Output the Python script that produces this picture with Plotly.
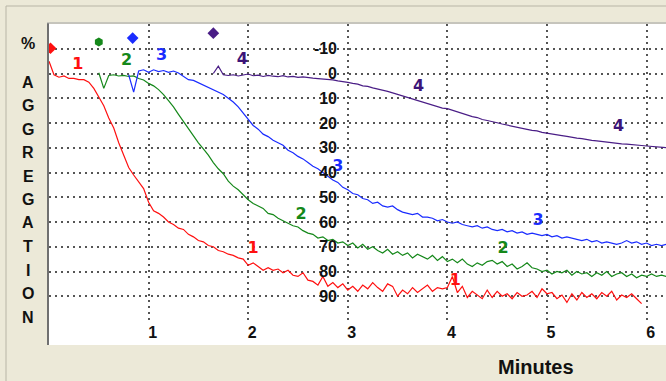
import numpy as np
import plotly.graph_objects as go

# ---------------- data ----------------
STEP = 0.05  # minutes between samples

red_start = 0.0
red_values = [
    -5, 0.5, 1.5, 1.0, 2.0, 2.0, 2.5, 2.5, 3.5, 6.0,
    9.5, 13, 18, 22, 28, 33, 38, 41, 44, 46.5,
    52, 55.5, 56.5, 58, 60, 61, 62.5, 63, 65, 66,
    67.5, 68, 69.5, 70, 71.5, 72, 73, 73.5, 74.5, 75,
    77.5, 76.5, 78, 79.5, 78.5, 79.5, 79, 80.5, 79.5, 81.5,
    82, 80.5, 83.5, 84, 85.5, 82, 86, 84.5, 86.5, 85,
    87.5, 86, 88, 85.5, 87, 84.5, 86.5, 88, 85, 86,
    90, 87.5, 89, 86.5, 88.5, 87, 85.5, 88, 86.5, 87,
    86.5, 82, 88.5, 86, 90.5, 88, 89.5, 91, 87.5, 90.5,
    88, 90, 89, 91, 88.5, 90, 89.5, 88, 90.5, 87,
    89, 88.5, 91, 89.5, 92.5, 89, 91.5, 88.5, 90.5, 89,
    91, 88.5, 90, 88, 91.5, 89.5, 90.5, 89, 91, 93,
]

green_start = 0.50
green_values = [
    -0.3, 6.0, 0.8, 0.5, 1.0, 0.8, 1.2, 1.0, 2.0, 2.6,
    4.0, 5.0, 6.5, 8.5, 11.0, 13.5, 16.5, 19.5, 22.0, 25.0,
    28.0, 30.5, 33.0, 36.0, 38.5, 40.5, 43.5, 45.5, 47.0, 49.0,
    51.0, 52.5, 53.5, 54.5, 56.5, 57.0, 58.5, 59.5, 60.5, 61.5,
    62.0, 63.5, 64.5, 65.0, 66.5, 66.0, 67.5, 67.0, 68.5, 68.0,
    69.5, 68.5, 70.5, 69.0, 71.0, 70.0, 71.5, 72.5, 71.0, 73.0,
    72.0, 73.5, 72.5, 74.5, 73.0, 74.0, 75.0, 73.5, 75.5, 74.0,
    76.0, 75.0, 76.5, 75.0, 77.0, 78.0, 76.5, 77.5, 76.0, 75.5,
    77.0, 76.0, 78.0, 77.0, 79.0, 78.0, 76.5, 78.5, 79.0, 80.0,
    79.5, 81.0, 80.0, 80.5, 79.5, 81.5, 80.0, 81.0, 80.5, 82.0,
    80.5, 81.5, 80.0, 82.0, 81.0, 80.5, 82.0, 81.0, 82.5, 81.5,
    82.0, 81.0, 82.0, 81.5, 82.0,
]

blue_start = 0.80
blue_values = [
    0.5, 7.5, -1.0, -1.5, -0.5, -1.5, -0.8, -1.2, -0.5, -1.0,
    -0.2, 1.0, 2.5, 2.8, 3.8, 4.5, 5.5, 6.5, 7.5, 8.5,
    10.0, 11.5, 13.5, 16.0, 18.5, 21.0, 22.5, 24.5, 25.5, 27.0,
    28.0, 29.0, 31.0, 32.0, 33.5, 34.5, 36.0, 37.5, 38.5, 40.0,
    41.5, 43.0, 44.0, 46.0, 47.0, 48.5, 49.0, 50.5, 51.0, 52.5,
    52.0, 53.5, 54.0, 53.5, 55.0, 56.0, 56.5, 57.0, 56.5, 58.0,
    58.0, 58.5, 59.5, 59.0, 60.0, 60.5, 60.0, 61.0, 61.5, 62.0,
    61.5, 62.5, 62.0, 63.0, 63.5, 63.0, 64.0, 63.5, 64.5, 64.0,
    65.0, 64.5, 65.0, 65.5, 65.0, 66.0, 65.5, 66.5, 66.0, 66.5,
    67.0, 67.5, 67.0, 68.0, 67.5, 68.5, 68.0, 68.5, 69.0, 68.5,
    67.5, 68.5, 68.0, 69.0, 68.5, 69.5, 69.0, 69.5, 69.0,
]

purple_start = 1.65
purple_values = [
    0.0, -3.0, 0.5, 0.8, 0.5, 1.0, 0.6, 0.2, 0.9, 0.7,
    1.2, 0.8, 1.1, 1.3, 0.9, 1.4, 1.2, 1.6, 1.4, 1.8,
    1.9, 2.1, 2.3, 2.2, 2.6, 3.0, 3.2, 3.6, 4.0, 4.3,
    5.0, 5.2, 5.8, 6.2, 6.8, 7.2, 7.8, 8.4, 9.0, 9.8,
    10.2, 10.9, 11.5, 12.2, 12.8, 13.4, 14.0, 14.2, 14.9, 15.6,
    16.2, 16.8, 17.4, 17.8, 18.6, 19.0, 19.6, 19.9, 20.4, 20.9,
    21.4, 21.6, 22.3, 22.6, 23.0, 23.2, 23.8, 24.2, 24.4, 24.9,
    25.1, 25.4, 25.9, 26.1, 26.3, 26.8, 27.0, 27.2, 27.5, 27.6,
    28.0, 28.2, 28.4, 28.5, 28.8, 29.0, 29.1, 29.3, 29.5, 29.6,
    29.8, 30.0,
]

# injection markers at the top
marker_t = [0.015, 0.50, 0.84, 1.65]
marker_v = [-10.2, -12.7, -14.3, -16.3]
marker_symbols = ["diamond", "hexagon", "diamond", "diamond"]

# curve number labels
label_text = ["1", "2", "3", "4", "4", "4", "3", "3", "2", "2", "1", "1"]
label_t = [0.29, 0.78, 1.13, 1.94, 3.71, 5.72, 2.90, 4.91, 2.53, 4.56, 2.05, 4.08]
label_v = [-3.4, -5.0, -7.0, -5.4, 5.5, 21.7, 37.9, 59.7, 57.3, 71.1, 71.1, 84.0]
label_series = [0, 1, 2, 3, 3, 3, 2, 2, 1, 1, 0, 0]

y_ticks = list(range(-20, 101, 10))
y_ticktext = ["" if v in (-20, 100) else str(v) for v in y_ticks]
x_ticks = [1, 2, 3, 4, 5, 6]
y_title_letters = ["%", "A", "G", "G", "R", "E", "G", "A", "T", "I", "O", "N"]
x_title = "Minutes"

# ---------------- styling ----------------
colors = ["#ff1010", "#15881a", "#1a2cff", "#4a1d86"]
label_colors = ["#ff1010", "#15881a", "#1a2cff", "#3c1478"]
series = [
    (red_start, red_values),
    (green_start, green_values),
    (blue_start, blue_values),
    (purple_start, purple_values),
]

W, H = 666, 381
ML, MR, MT, MB = 49, 0, 24, 60
PW, PH = W - ML - MR, H - MT - MB
BOLD = dict(family="Liberation Sans", weight="bold", color="#111111")

fig = go.Figure()
for i, (t0, vals) in enumerate(series):
    t = np.round(t0 + STEP * np.arange(len(vals)), 3)
    fig.add_trace(go.Scatter(x=t, y=vals, mode="lines",
                             line=dict(color=colors[i], width=1.2),
                             hoverinfo="skip", showlegend=False))

fig.add_trace(go.Scatter(x=marker_t, y=marker_v, mode="markers",
                         marker=dict(color=colors, size=9, symbol=marker_symbols),
                         showlegend=False, hoverinfo="skip"))

fig.add_trace(go.Scatter(x=label_t, y=label_v, mode="text", text=label_text,
                         textfont=dict(family="DejaVu Sans", size=16, weight="bold",
                                       color=[label_colors[s] for s in label_series]),
                         showlegend=False, hoverinfo="skip"))

grid = dict(showgrid=True, gridcolor="#555555", gridwidth=1.5, griddash="2px,4px",
            zeroline=False, showline=False, ticks="")

fig.update_layout(
    width=W, height=H,
    margin=dict(l=ML, r=MR, t=MT, b=MB, pad=0),
    paper_bgcolor="#ece9d8", plot_bgcolor="#ffffff",
    font=dict(family="Liberation Sans", color="#111111"),
    xaxis=dict(range=[0, 6.195], tickvals=x_ticks, ticklabelshift=4,
               tickfont=dict(BOLD, size=16), **grid),
    yaxis=dict(range=[100, -20], tickvals=y_ticks, ticktext=y_ticktext,
               anchor="free", position=(337 - ML) / PW,
               tickfont=dict(BOLD, size=16), **grid),
)

# white extension of the chart panel below the last grid line, frame lines
fig.add_shape(type="rect", xref="paper", yref="paper", x0=0, x1=1,
              y0=-24 / PH, y1=0, fillcolor="white", line_width=0, layer="below")
fig.add_shape(type="line", xref="paper", yref="paper",
              x0=-1 / PW, x1=-1 / PW, y0=-24 / PH, y1=1 + 1 / PH,
              line=dict(color="#707070", width=2))
fig.add_shape(type="line", xref="paper", yref="paper",
              x0=-2 / PW, x1=1, y0=1 + 1 / PH, y1=1 + 1 / PH,
              line=dict(color="#a0a0a0", width=1))
# outer panel border
fig.add_shape(type="line", xref="paper", yref="paper",
              x0=(6 - ML) / PW, x1=(6 - ML) / PW, y0=-MB / PH, y1=(H - MB - 6) / PH,
              line=dict(color="#b8b5a6", width=1))
fig.add_shape(type="line", xref="paper", yref="paper",
              x0=(6 - ML) / PW, x1=1, y0=(H - MB - 6) / PH, y1=(H - MB - 6) / PH,
              line=dict(color="#b8b5a6", width=1))

# vertical y-axis title letters
letter_y = [43, 82, 105.5, 129, 152.5, 176, 199.5, 223, 246.5, 270, 293.5, 317]
for ch, yp in zip(y_title_letters, letter_y):
    fig.add_annotation(text=ch, xref="paper", yref="paper",
                       x=(28 - ML) / PW, y=(H - MB - yp) / PH,
                       showarrow=False, xanchor="center", yanchor="middle",
                       font=dict(BOLD, size=16))

fig.add_annotation(text=x_title, xref="paper", yref="paper",
                   x=(536 - ML) / PW, y=(H - MB - 367) / PH,
                   showarrow=False, xanchor="center", yanchor="middle",
                   font=dict(BOLD, size=20))

fig.write_html("out.html", config={"displayModeBar": False},
               post_script="document.body.style.margin='0';document.body.style.overflow='hidden';")
